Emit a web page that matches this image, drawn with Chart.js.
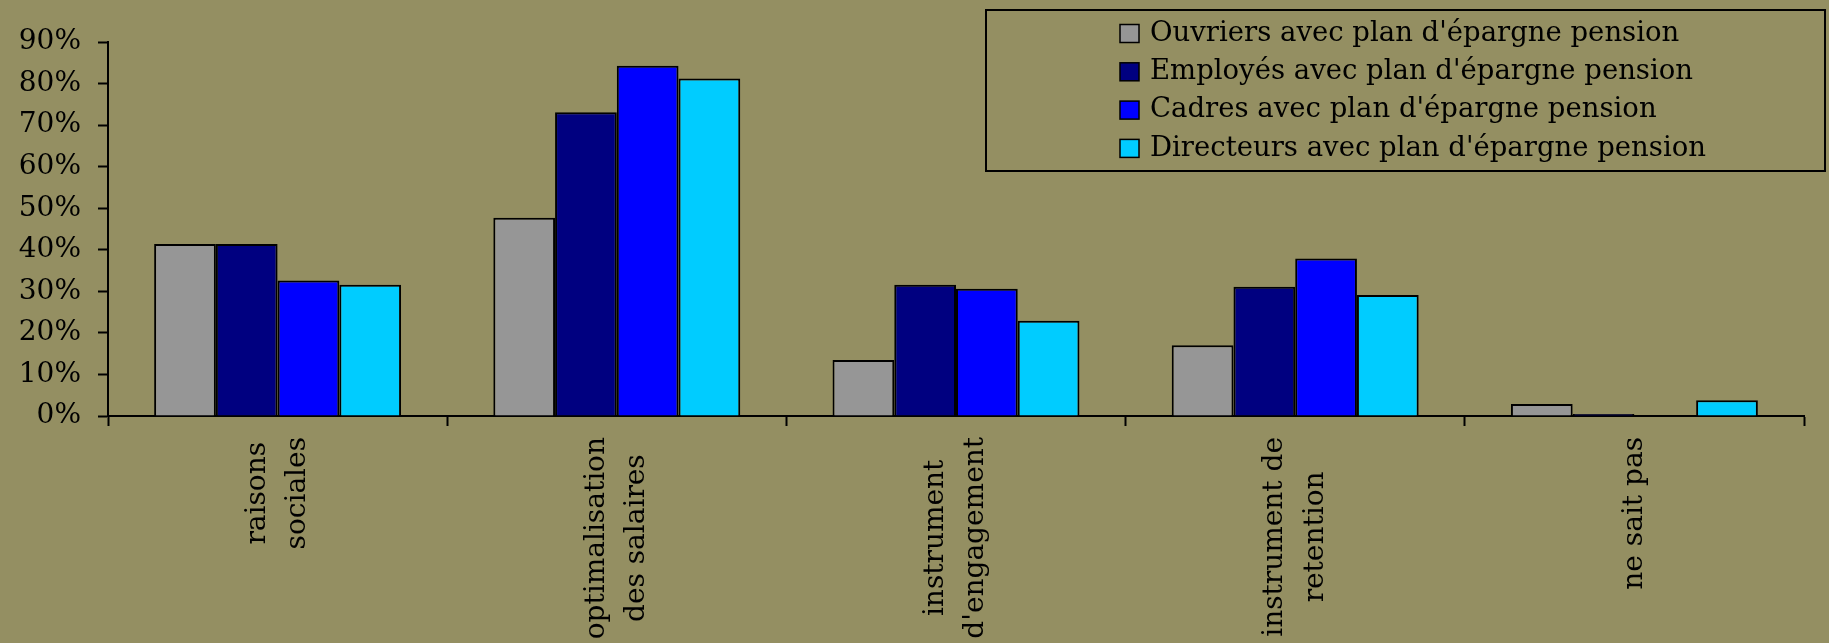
<!DOCTYPE html>
<html>
<head>
<meta charset="utf-8">
<script src="https://cdn.jsdelivr.net/npm/chart.js@4.4.1/dist/chart.umd.min.js"></script>
<style>
  html, body { margin: 0; padding: 0; background: #948f62; }
  #wrap { width: 1829px; height: 643px; position: relative; }
</style>
</head>
<body>
<div id="wrap"><canvas id="c" width="1829" height="643"></canvas></div>
<script>
const categories = [
  ['raisons', 'sociales'],
  ['optimalisation', 'des salaires'],
  ['instrument', "d'engagement"],
  ['instrument de', 'retention'],
  ['ne sait pas']
];
const seriesNames = [
  "Ouvriers avec plan d'épargne pension",
  "Employés avec plan d'épargne pension",
  "Cadres avec plan d'épargne pension",
  "Directeurs avec plan d'épargne pension"
];
const ouvriers   = [41.4, 47.7, 13.5, 17.0, 2.9];
const employes   = [41.4, 73.1, 31.6, 31.1, 0.5];
const cadres     = [32.6, 84.3, 30.6, 37.9, 0];
const directeurs = [31.6, 81.2, 22.9, 29.1, 3.8];
const yTicks = [0, 10, 20, 30, 40, 50, 60, 70, 80, 90];

const colors = ['#969696', '#000080', '#0000ff', '#00ccff'];
const seriesValues = [ouvriers, employes, cadres, directeurs];

const XFONT = { family: 'DejaVu Serif', size: 28, lineHeight: 1.43 };
const XLH = XFONT.size * XFONT.lineHeight;

const centerLabels = {
  id: 'centerLabels',
  beforeDraw(chart) {
    const scale = chart.scales.x;
    const items = scale.getLabelItems();
    if (items._centered) return;
    items._centered = true;
    const ctx = chart.ctx;
    ctx.save();
    ctx.font = XFONT.size + 'px "' + XFONT.family + '"';
    items.forEach(item => {
      const lines = Array.isArray(item.label) ? item.label : [item.label];
      const maxW = Math.max(...lines.map(l => ctx.measureText(l).width));
      const t = item.options.translation;
      item.options.textAlign = 'center';
      item.options.translation = [t[0] - (lines.length - 1) * XLH / 2, t[1] + maxW / 2];
    });
    ctx.restore();
  }
};

const boxLegend = {
  id: 'boxLegend',
  afterDraw(chart) {
    const ctx = chart.ctx;
    ctx.save();
    ctx.lineWidth = 2;
    ctx.strokeStyle = '#000';
    ctx.strokeRect(986, 10, 839, 161);
    ctx.font = '27.5px "DejaVu Serif"';
    ctx.textBaseline = 'middle';
    ctx.textAlign = 'left';
    chart.data.datasets.forEach((ds, i) => {
      const cy = 33.5 + i * 38.3;
      ctx.fillStyle = ds.backgroundColor;
      ctx.fillRect(1120, cy - 9, 19, 18);
      ctx.lineWidth = 1.5;
      ctx.strokeRect(1120, cy - 9, 19, 18);
      ctx.fillStyle = '#000';
      ctx.fillText(ds.label, 1150, cy);
    });
    ctx.restore();
  }
};

const datasets = seriesNames.map((name, i) => ({
  label: name,
  data: seriesValues[i],
  backgroundColor: colors[i],
  borderColor: '#000',
  borderWidth: 2,
  borderSkipped: 'bottom',
  barPercentage: 1,
  categoryPercentage: 0.728
}));

new Chart(document.getElementById('c'), {
  type: 'bar',
  data: { labels: categories, datasets },
  plugins: [centerLabels, boxLegend],
  options: {
    responsive: false,
    animation: false,
    layout: { padding: { left: 0, top: 42, right: 25, bottom: 0 } },
    plugins: { legend: { display: false }, tooltip: { enabled: false } },
    scales: {
      x: {
        afterFit(scale) { scale.height = 227; },
        grid: { offset: true, drawOnChartArea: false, drawTicks: true, tickLength: 10, tickColor: '#000', tickWidth: 2 },
        border: { display: true, color: '#000', width: 2 },
        ticks: {
          autoSkip: false, minRotation: 90, maxRotation: 90, padding: 11,
          color: '#000', font: XFONT
        }
      },
      y: {
        min: 0, max: 90,
        afterFit(scale) { scale.width = 108; },
        afterBuildTicks(scale) { scale.ticks = yTicks.map(v => ({ value: v })); },
        grid: { drawOnChartArea: false, drawTicks: true, tickLength: 10, tickColor: '#000', tickWidth: 2 },
        border: { display: true, color: '#000', width: 2 },
        ticks: {
          padding: 17, color: '#000',
          font: { family: 'DejaVu Serif', size: 28 },
          callback: v => v + '%'
        }
      }
    }
  }
});
</script>
</body>
</html>
